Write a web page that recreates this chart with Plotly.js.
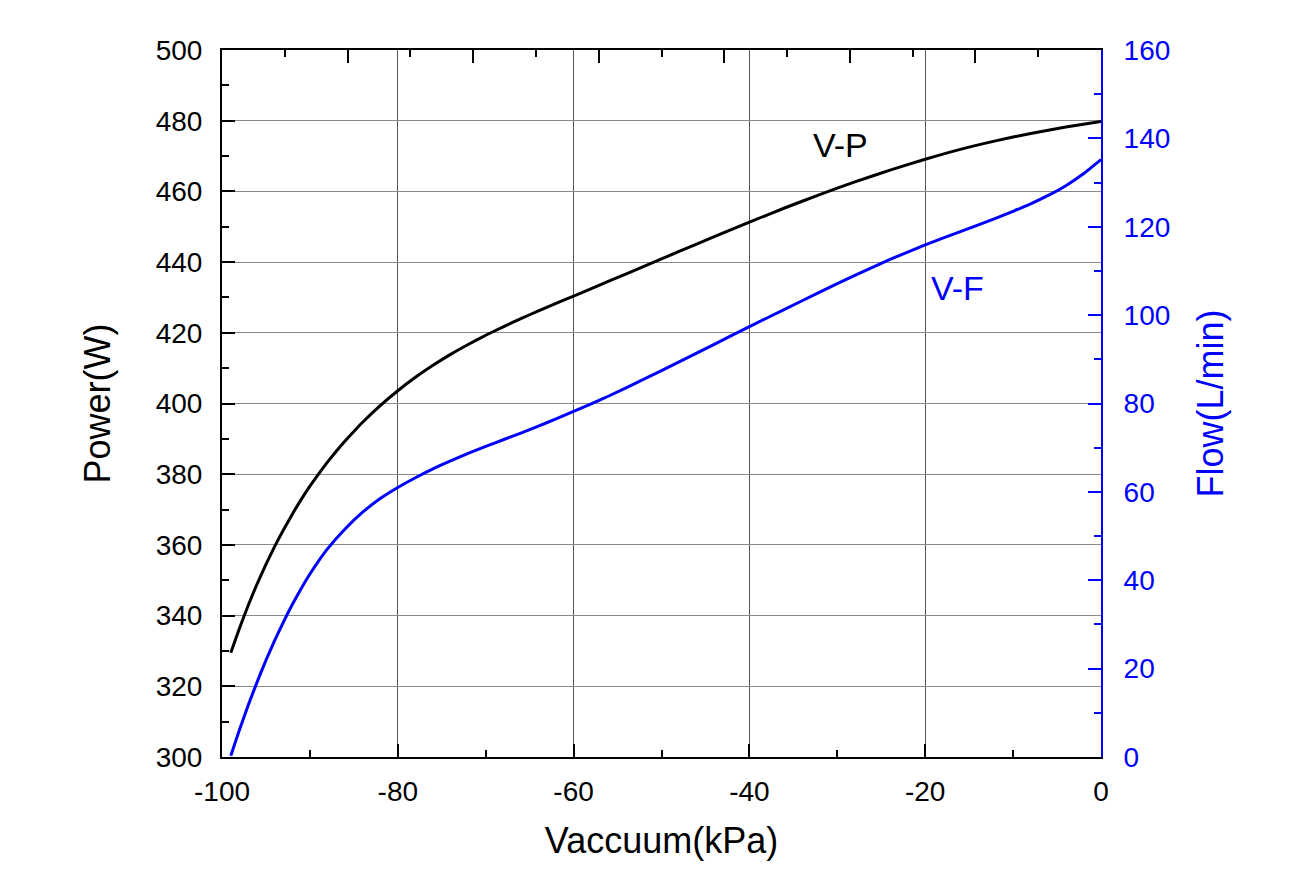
<!DOCTYPE html>
<html>
<head>
<meta charset="utf-8">
<script src="https://cdn.plot.ly/plotly-3.0.1.min.js"></script>
<style>html,body{margin:0;padding:0;background:#fff;}#chart{width:1305px;height:891px;}</style>
</head>
<body>
<div id="chart"></div>
<script>
// V-P curve (Power, W) vs vacuum (kPa)
const vpVacuum = [-99, -98, -97, -96, -95, -94, -93, -92, -91, -90, -89, -88, -87, -86, -85, -84, -82, -80, -78, -76, -74, -72, -70, -68, -66, -64, -62, -60, -56, -52, -48, -44, -40, -36, -32, -28, -24, -20, -16, -12, -8, -4, 0];
const vpPower  = [329.5, 336.5, 343, 349, 354.5, 359.6, 364.3, 368.7, 372.8, 376.6, 380.1, 383.4, 386.5, 389.4, 392.1, 394.7, 399.4, 403.6, 407.4, 410.8, 413.9, 416.7, 419.3, 421.7, 424.0, 426.2, 428.3, 430.4, 434.6, 438.8, 443.0, 447.2, 451.3, 455.3, 459.1, 462.7, 466.0, 469.1, 471.9, 474.3, 476.4, 478.2, 479.8];

// V-F curve (Flow, L/min) vs vacuum (kPa)
const vfVacuum = [-99, -98, -97, -96, -95, -94, -93, -92, -91, -90, -89, -88, -86, -84, -82, -80, -78, -76, -74, -72, -70, -68, -66, -64, -62, -60, -58, -56, -52, -48, -44, -40, -36, -32, -28, -24, -20, -16, -12, -10, -8, -6, -4, -2, 0];
const vfFlow   = [0.3, 6.2, 11.8, 17.0, 21.9, 26.4, 30.6, 34.5, 38.1, 41.4, 44.4, 47.1, 51.6, 55.4, 58.5, 61.0, 63.2, 65.2, 67.0, 68.7, 70.3, 71.8, 73.3, 74.9, 76.5, 78.2, 79.9, 81.7, 85.5, 89.4, 93.4, 97.4, 101.3, 105.2, 109.0, 112.6, 115.9, 118.9, 121.9, 123.5, 125.2, 127.1, 129.3, 132.0, 135.2];

// Bottom axis tick values and labels (hyphen minus as in the original)
const xTickVals = [-100, -80, -60, -40, -20, 0];
const xTickText = ["-100", "-80", "-60", "-40", "-20", "0"];

// Curve labels
const labelText = ["V-P", "V-F"];
const labelX = [-29.6, -16.3];
const labelY = [473.1, 432.7];
const labelColor = ["#000000", "#0000ff"];

const FONT = "Liberation Sans, Arial, sans-serif";
const BLUE = "#0000ff";

const traces = [
  {x: vpVacuum, y: vpPower, type: "scatter", mode: "lines", name: "V-P",
   line: {color: "#000000", width: 3, shape: "spline", smoothing: 0.5}, xaxis: "x", yaxis: "y", hoverinfo: "x+y"},
  {x: vfVacuum, y: vfFlow, type: "scatter", mode: "lines", name: "V-F",
   line: {color: BLUE, width: 3, shape: "spline", smoothing: 0.5}, xaxis: "x", yaxis: "y2", hoverinfo: "x+y"},
  {x: [0, 7], y: [null, null], type: "scatter", mode: "lines", xaxis: "x2", yaxis: "y",
   showlegend: false, hoverinfo: "skip"}
];

const annotations = labelText.map((t, i) => ({
  text: t, x: labelX[i], y: labelY[i], xref: "x", yref: "y",
  showarrow: false, font: {family: FONT, size: 34, color: labelColor[i]}
}));

const layout = {
  width: 1305, height: 891,
  margin: {l: 222, r: 204, t: 50, b: 134, pad: 0},
  paper_bgcolor: "#ffffff", plot_bgcolor: "#ffffff",
  showlegend: false,
  font: {family: FONT, color: "#000"},
  xaxis: {
    range: [-100, 0], tickmode: "array", tickvals: xTickVals, ticktext: xTickText,
    showline: true, linecolor: "#000", linewidth: 2,
    ticks: "inside", ticklen: 13, tickwidth: 2, tickcolor: "#000",
    minor: {ticks: "inside", ticklen: 7, tickwidth: 2, dtick: 10, tick0: 0, tickcolor: "#000", showgrid: false},
    showgrid: true, gridcolor: "#555555", gridwidth: 1,
    zeroline: false,
    tickfont: {family: FONT, size: 28, color: "#000"},
    ticklabelstandoff: 8,
    title: {text: "Vaccuum(kPa)", font: {family: FONT, size: 36, color: "#000"}, standoff: 22}
  },
  xaxis2: {
    overlaying: "x", side: "top", anchor: "y",
    range: [0, 7], dtick: 1,
    showline: true, linecolor: "#000", linewidth: 2,
    ticks: "inside", ticklen: 13, tickwidth: 2, tickcolor: "#000",
    minor: {ticks: "inside", ticklen: 7, tickwidth: 2, dtick: 0.5, tickcolor: "#000", showgrid: false},
    showticklabels: false, showgrid: false, zeroline: false
  },
  yaxis: {
    range: [300, 500], dtick: 20,
    showline: true, linecolor: "#000", linewidth: 2,
    ticks: "inside", ticklen: 13, tickwidth: 2, tickcolor: "#000",
    minor: {ticks: "inside", ticklen: 7, tickwidth: 2, dtick: 10, tickcolor: "#000", showgrid: false},
    showgrid: true, gridcolor: "#8a8a8a", gridwidth: 1,
    zeroline: false,
    tickfont: {family: FONT, size: 28, color: "#000"},
    ticklabelstandoff: 12,
    title: {text: "Power(W)", font: {family: FONT, size: 36, color: "#000"}, standoff: 34}
  },
  yaxis2: {
    overlaying: "y", side: "right", anchor: "x",
    range: [0, 160], dtick: 20,
    showline: true, linecolor: BLUE, linewidth: 2,
    ticks: "inside", ticklen: 13, tickwidth: 2, tickcolor: BLUE,
    minor: {ticks: "inside", ticklen: 7, tickwidth: 2, dtick: 10, tickcolor: BLUE, showgrid: false},
    showgrid: false, zeroline: false,
    tickfont: {family: FONT, size: 28, color: BLUE},
    ticklabelstandoff: 15,
    title: {text: "Flow(L/min)", font: {family: FONT, size: 36, color: BLUE}, standoff: 28}
  },
  annotations: annotations
};

Plotly.newPlot("chart", traces, layout, {displayModeBar: false, staticPlot: true});
</script>
</body>
</html>
